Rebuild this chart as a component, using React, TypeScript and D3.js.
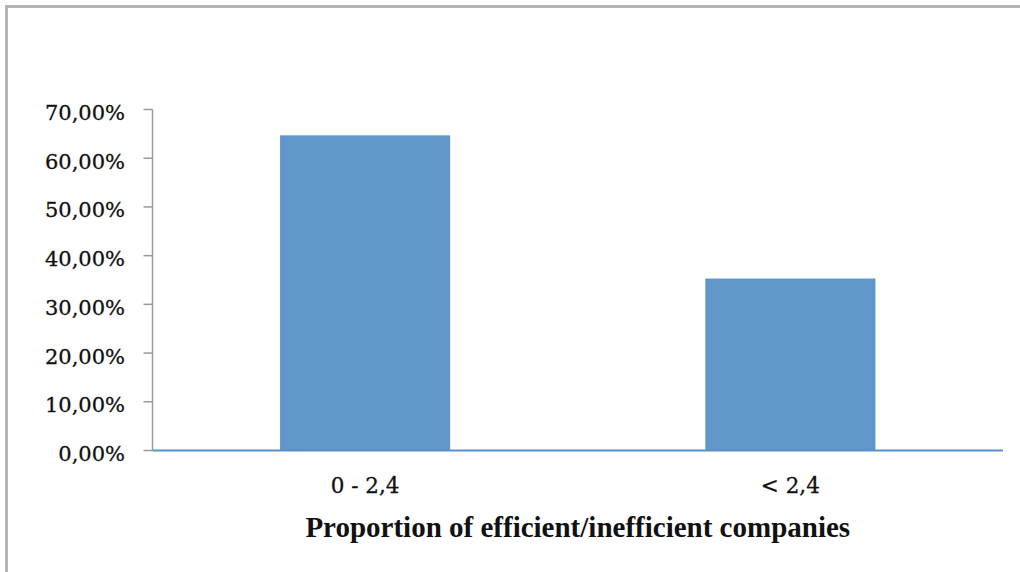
import React from "react";
import * as d3 from "d3";

const categories = ["0 - 2,4", "< 2,4"];
const values = [64.7, 35.3];
const yTicks = [0, 10, 20, 30, 40, 50, 60, 70];
const xTitle = "Proportion of efficient/inefficient companies";

const W = 1020;
const H = 572;
const left = 152.5;
const right = 1003;
const top = 109.5;
const bottom = 450.5;

export default function App() {
  const x = d3
    .scaleBand<string>()
    .domain(categories)
    .range([left, right])
    .paddingInner(0.6)
    .paddingOuter(0.3);
  const y = d3.scaleLinear().domain([0, 70]).range([bottom, top]);
  const fmt = (v: number) => v.toFixed(2).replace(".", ",") + "%";
  const textColor = "#111";

  return (
    <svg
      width={W}
      height={H}
      style={{ position: "absolute", left: 0, top: 0, background: "#fff" }}
    >
      <rect x={6.5} y={6.5} width={W + 20} height={H + 20} fill="#fff" stroke="#b4b4b4" strokeWidth={3} />
      {categories.map((c, i) => (
        <rect
          key={c}
          x={x(c)!}
          y={y(values[i])}
          width={x.bandwidth()}
          height={y(0) - y(values[i])}
          fill="#6096c9"
        />
      ))}
      <line x1={left} x2={left} y1={top} y2={bottom} stroke="#9a9a9a" strokeWidth={1.5} />
      {yTicks.map((t) => (
        <g key={t}>
          <line x1={left - 9} x2={left} y1={y(t)} y2={y(t)} stroke="#9a9a9a" strokeWidth={1.5} />
          <text
            x={125}
            y={y(t) + 3}
            dy="0.36em"
            textAnchor="end"
            fontFamily="'DejaVu Serif', serif"
            fontSize={21}
            fill={textColor}
            stroke={textColor}
            strokeWidth={0.3}
          >
            {fmt(t)}
          </text>
        </g>
      ))}
      <line x1={left} x2={right} y1={y(0)} y2={y(0)} stroke="#5b8fc9" strokeWidth={2} />
      {categories.map((c) => (
        <text
          key={c}
          x={x(c)! + x.bandwidth() / 2}
          y={493}
          textAnchor="middle"
          fontFamily="'DejaVu Serif', serif"
          fontSize={21.5}
          fill={textColor}
          stroke={textColor}
          strokeWidth={0.3}
        >
          {c}
        </text>
      ))}
      <text
        x={(left + right) / 2}
        y={537}
        textAnchor="middle"
        fontFamily="'Liberation Serif', serif"
        fontWeight="bold"
        fontSize={29}
        fill={textColor}
      >
        {xTitle}
      </text>
    </svg>
  );
}
